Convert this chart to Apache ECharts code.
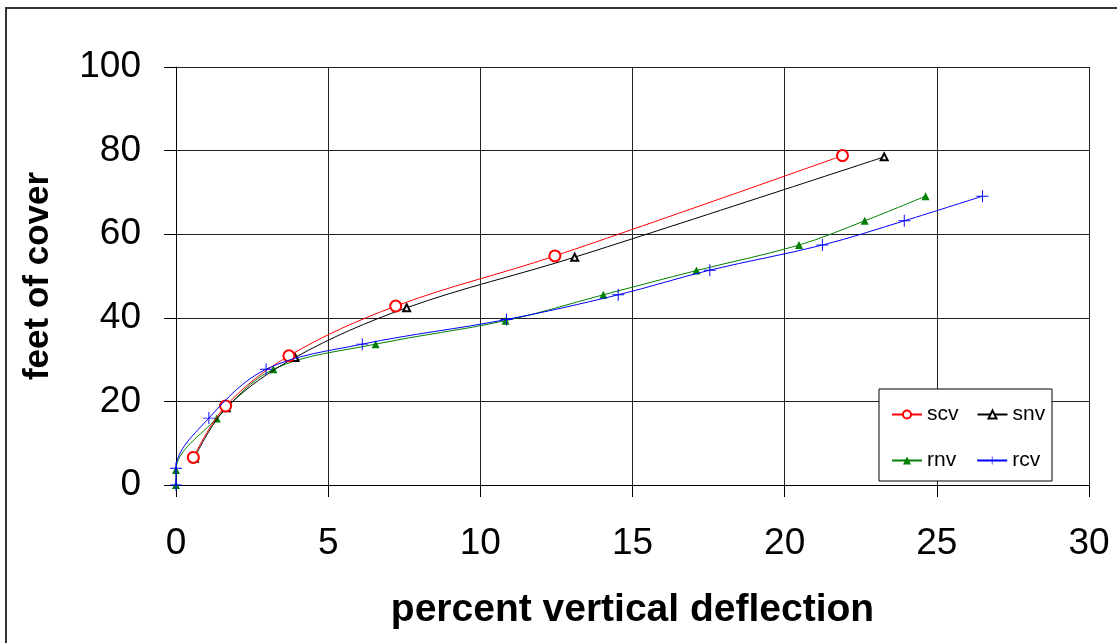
<!DOCTYPE html>
<html lang="en">
<head>
    <meta charset="UTF-8">
    <title>feet of cover</title>
    <script src="https://cdn.jsdelivr.net/npm/echarts@6/dist/echarts.min.js"></script>
    <style>
        html, body{
            margin: 0;
            padding: 0;
            background: #fff;
        }
        #main{
            width: 1117px;
            height: 643px;
        }
    </style>
</head>
<body>
<div id="main"></div>
<script>
    // values
    var scvX = [0.57, 1.63, 3.71, 7.22, 12.45, 21.9];
    var scvY = [6.6, 18.9, 30.9, 42.8, 54.8, 78.8];

    var snvX = [0.6, 1.65, 3.91, 7.58, 13.1, 23.27];
    var snvY = [6.4, 18.5, 30.5, 42.4, 54.5, 78.5];

    var rnvX = [0, 0, 1.34, 3.2, 6.56, 10.83, 14.04, 17.1, 20.47, 22.63, 24.63];
    var rnvY = [0, 3.6, 15.9, 27.7, 33.7, 39.3, 45.5, 51.3, 57.4, 63.2, 69.1];

    var rcvX = [0, 0, 1.08, 2.96, 6.12, 10.86, 14.53, 17.54, 21.24, 23.93, 26.5];
    var rcvY = [0, 4.0, 16.0, 27.7, 33.7, 39.6, 45.5, 51.4, 57.4, 63.2, 69.1];

    function pts(xs, ys){
        var out = [];
        for (var i = 0; i < xs.length; i++) out.push([xs[i], ys[i]]);
        return out;
    }

    var plus = 'path://M4.6,0H5.4V4.6H10V5.4H5.4V10H4.6V5.4H0V4.6H4.6Z';
    var font = 'Liberation Sans, Arial, sans-serif';

    var chart = echarts.init(document.getElementById('main'));
    chart.setOption({
        animation: false,
        graphic: [{
            type: 'rect',
            shape: {x: 6, y: 8, width: 1300, height: 800},
            style: {fill: 'none', stroke: '#333', lineWidth: 2},
            z: 0
        }, {
            type: 'rect',
            shape: {x: 879, y: 389, width: 173, height: 92},
            style: {fill: '#fff', stroke: '#000', lineWidth: 1},
            z: 10
        }],
        grid: {left: 176, top: 67, right: 28, bottom: 158},
        legend: [{
            data: ['scv', 'snv'],
            left: 891, top: 404, padding: 0,
            itemWidth: 30, itemHeight: 10, itemGap: 18,
            textStyle: {fontFamily: font, fontSize: 21, color: '#000'},
            z: 20
        }, {
            data: ['rnv', 'rcv'],
            left: 891, top: 450, padding: 0,
            itemWidth: 30, itemHeight: 10, itemGap: 20,
            textStyle: {fontFamily: font, fontSize: 21, color: '#000'},
            z: 20
        }],
        xAxis: {
            type: 'value',
            min: 0, max: 30, interval: 5,
            name: 'percent vertical deflection',
            nameLocation: 'middle',
            nameGap: 106,
            nameTextStyle: {fontFamily: font, fontSize: 39, fontWeight: 'bold', color: '#000'},
            axisLine: {show: true, lineStyle: {color: '#000', width: 1}},
            axisTick: {show: true, length: 12, lineStyle: {color: '#000'}},
            axisLabel: {fontFamily: font, fontSize: 37, color: '#000', margin: 40},
            splitLine: {show: true, lineStyle: {color: '#222', width: 1}}
        },
        yAxis: {
            type: 'value',
            min: 0, max: 100, interval: 20,
            name: 'feet of cover',
            nameLocation: 'middle',
            nameGap: 120,
            nameTextStyle: {fontFamily: font, fontSize: 35, fontWeight: 'bold', color: '#000'},
            axisLine: {show: true, lineStyle: {color: '#000', width: 1}},
            axisTick: {show: true, length: 12, lineStyle: {color: '#000'}},
            axisLabel: {fontFamily: font, fontSize: 37, color: '#000', margin: 35},
            splitLine: {show: true, lineStyle: {color: '#222', width: 1}}
        },
        series: [{
            name: 'scv',
            type: 'line',
            data: pts(scvX, scvY),
            smooth: 0.35,
            symbol: 'emptyCircle',
            symbolSize: 11,
            lineStyle: {color: '#ff0000', width: 1},
            itemStyle: {color: '#ff0000', borderWidth: 1},
            z: 5
        }, {
            name: 'snv',
            type: 'line',
            data: pts(snvX, snvY),
            smooth: 0.35,
            symbol: 'emptyTriangle',
            symbolSize: 7,
            lineStyle: {color: '#000', width: 1},
            itemStyle: {color: '#000', borderWidth: 1},
            z: 4
        }, {
            name: 'rnv',
            type: 'line',
            data: pts(rnvX, rnvY),
            smooth: 0.35,
            symbol: 'triangle',
            symbolSize: 8,
            lineStyle: {color: '#008000', width: 1},
            itemStyle: {color: '#008000'},
            z: 3
        }, {
            name: 'rcv',
            type: 'line',
            data: pts(rcvX, rcvY),
            smooth: 0.35,
            symbol: plus,
            symbolSize: 12,
            lineStyle: {color: '#0000ff', width: 1},
            itemStyle: {color: '#0000ff'},
            z: 6
        }]
    });
</script>
</body>
</html>
